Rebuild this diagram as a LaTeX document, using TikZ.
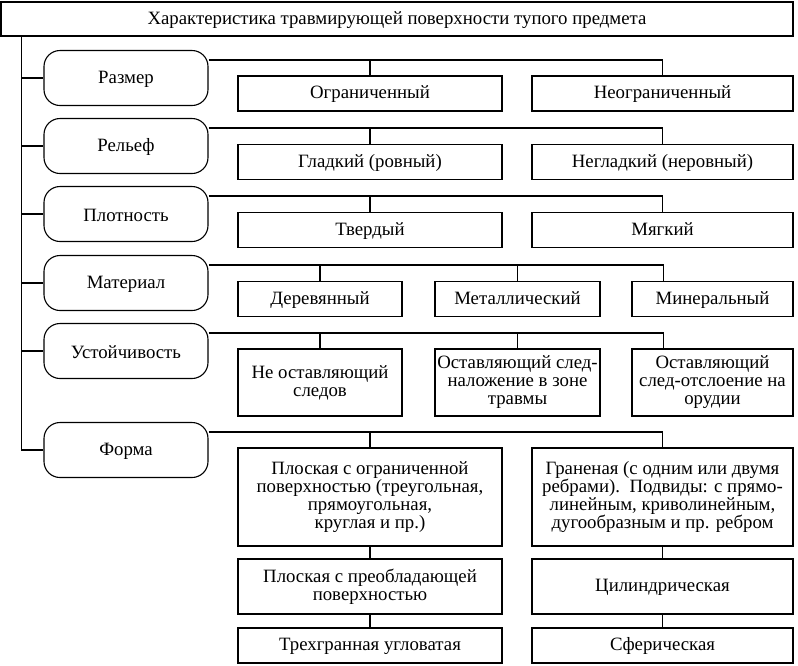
\documentclass[tikz,border=0pt]{standalone}
\usepackage{fontspec}
\setmainfont{Liberation Serif}
\usetikzlibrary{positioning}
\newcommand\vstrut{\rule[-3.75pt]{0pt}{18pt}}
\newcommand\pstrut{\rule[-1.5pt]{0pt}{17pt}}

\begin{document}
\begin{tikzpicture}[x=1pt,y=-1pt,
      every node/.style={font=\fontsize{18.8}{18}\selectfont},
      tbox/.style={draw, minimum width=792pt, minimum height=34pt,
        execute at begin node=\pstrut},
      prop/.style={draw, rounded corners=16pt, minimum width=164pt, minimum height=55pt,
        execute at begin node=\pstrut},
      val/.style={draw, align=center, inner sep=1pt, minimum height=35pt,
        execute at begin node=\vstrut, execute at end node=\vstrut},
      line width=1.1pt]
    \useasboundingbox (0,0) rectangle (798,665);
    % title and properties
    \node[tbox] (title) at (397,19) {Характеристика травмирующей поверхности тупого предмета};
    \node[prop] (razm) at (126,78)  {Размер};
    \node[prop] (relf) at (126,146) {Рельеф};
    \node[prop] (plot) at (126,214) {Плотность};
    \node[prop] (mat)  at (126,283) {Материал};
    \node[prop] (ust)  at (126,351) {Устойчивость};
    \node[prop] (form) at (126,450) {Форма};
    % values
    \node[val,minimum width=264pt] (r1) at (370,93.5)   {Ограниченный};
    \node[val,minimum width=261pt] (r2) at (662.5,93.5) {Неограниченный};
    \node[val,minimum width=264pt] (g1) at (370,162)    {Гладкий (ровный)};
    \node[val,minimum width=261pt] (g2) at (662.5,162)  {Негладкий (неровный)};
    \node[val,minimum width=264pt] (p1) at (370,230)    {Твердый};
    \node[val,minimum width=261pt] (p2) at (662.5,230)  {Мягкий};
    \node[val,minimum width=164pt] (m1) at (320,299)    {Деревянный};
    \node[val,minimum width=165pt] (m2) at (517.5,299)  {Металлический};
    \node[val,minimum width=161pt] (m3) at (712.5,299)  {Минеральный};
    \node[val,minimum width=164pt,minimum height=67pt] (u1) at (320,382.5)   {Не оставляющий\\следов};
    \node[val,minimum width=165pt,minimum height=67pt] (u2) at (517.5,382.5) {Оставляющий след-\\наложение в зоне\\травмы};
    \node[val,minimum width=161pt,minimum height=67pt] (u3) at (712.5,382.5) {Оставляющий\\след-отслоение на\\орудии};
    \node[val,minimum width=264pt,minimum height=98pt] (f1) at (370,497)
      {Плоская с ограниченной\\поверхностью (треугольная,\\прямоугольная,\\круглая и пр.)};
    \node[val,minimum width=261pt,minimum height=98pt] (f2) at (662.5,497)
      {Граненая (с одним или двумя\\ребрами).\ \ Подвиды: с прямо-\\линейным, криволинейным,\\дугообразным и пр. ребром};
    \node[val,minimum width=264pt,minimum height=55pt] (f3) at (370,586.5)   {Плоская с преобладающей\\поверхностью};
    \node[val,minimum width=261pt,minimum height=55pt] (f4) at (662.5,586.5) {Цилиндрическая};
    \node[val,minimum width=264pt] (f5) at (370,645.5)   {Трехгранная угловатая};
    \node[val,minimum width=261pt] (f6) at (662.5,645.5) {Сферическая};
    % spine
    \coordinate (sp) at ([xshift=21pt]title.south west);
    \draw (sp) |- (form.west);
    \foreach \n in {razm,relf,plot,mat,ust}
      \draw (sp |- \n.west) -- (\n.west);
    % two values
    \foreach \p/\a/\b in {razm/r1/r2, relf/g1/g2, plot/p1/p2, form/f1/f2} {
      \coordinate (\p-l) at ([yshift=-10pt]\p.north east);
      \draw (\p-l) -| (\b.north);
      \draw (\a.north) -- (\a.north |- \p-l);
    }
    % three values
    \foreach \p/\a/\b/\c in {mat/m1/m2/m3, ust/u1/u2/u3} {
      \coordinate (\p-l) at ([yshift=-10pt]\p.north east);
      \draw (\p-l) -| ([xshift=32pt]\c.north west);
      \draw (\a.north) -- (\a.north |- \p-l);
      \draw (\b.north) -- (\b.north |- \p-l);
    }
    % form column
    \draw (f1.south) -- (f3.north);
    \draw (f3.south) -- (f5.north);
    \draw (f2.south) -- (f4.north);
    \draw (f4.south) -- (f6.north);
\end{tikzpicture}
\end{document}
